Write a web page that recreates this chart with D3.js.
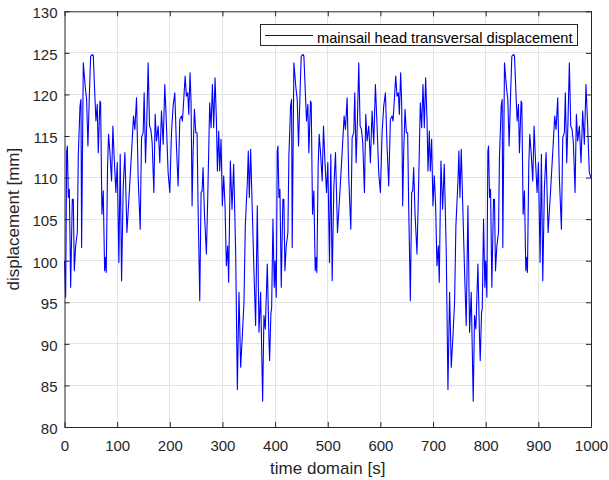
<!DOCTYPE html>
<html>
<head>
<meta charset="utf-8">
<script src="https://cdn.jsdelivr.net/npm/d3@7"></script>
<style>
  html, body { margin: 0; padding: 0; background: #ffffff; }
  svg { display: block; font-family: "Liberation Sans", Arial, sans-serif; }
</style>
</head>
<body>
<svg id="chart" width="609" height="480"></svg>
<script>
// ---- data ----
const time = [
  0,2.2,4.1,5.4,7.3,9.2,11.7,14.8,16.7,18.6,21.2,24.3,26.2,29.4,31.3,32.5,35.7,39.5,42,44.5,47.1,49.6,53.4,54.7,57.2,59.7,62.2,64.1,67.3,68.6,71.1,73.6,76.2,78,79.3,81.8,83.7,86.3,89.4,91.9,94.5,97.6,100.2,103.3,105.8,108.4,111.5,114.7,118.5,122.3,127.3,131.1,133.6,136.8,140,143.8,146.3,149.4,151.3,153.9,156.4,158.9,161.5,164,166.5,169.7,172.2,174.7,177.9,181,184.2,187.4,190.5,193.7,196.8,200,
  203.2,206.3,209.5,212.6,215.8,219,222.1,224,226.5,229.1,231.6,234.1,236,238.5,240.4,242.3,244.2,246.8,249.3,251.8,253.7,256.9,259.4,261.3,263.2,265.7,269.5,272,275.8,278.4,280.9,283.4,285.9,288.5,290.4,292.9,294.8,297.3,299.8,302.4,304.9,307.4,310,311.8,315,318.2,321.3,325.1,328.3,331.4,334.6,337.8,340.9,343.4,347.2,349.1,351,353.6,356.1,359.9,363,366.2,369.4,372.5,376.3,378.8,381.4,385.2,388.3,389.6,392.1,393.4,395.9,398.4,
  400,402.2,404.1,405.4,407.3,409.2,411.7,414.8,416.7,418.6,421.2,424.3,426.2,429.4,431.3,432.5,435.7,439.5,442,444.5,447.1,449.6,453.4,454.7,457.2,459.7,462.2,464.1,467.3,468.6,471.1,473.6,476.2,478,479.3,481.8,483.7,486.3,489.4,491.9,494.5,497.6,500.2,503.3,505.8,508.4,511.5,514.7,518.5,522.3,527.3,531.1,533.6,536.8,540,543.8,546.3,549.4,551.3,553.9,556.4,558.9,561.5,564,566.5,569.7,572.2,574.7,577.9,581,584.2,587.4,590.5,593.7,596.8,600,
  603.2,606.3,609.5,612.6,615.8,619,622.1,624,626.5,629.1,631.6,634.1,636,638.5,640.4,642.3,644.2,646.8,649.3,651.8,653.7,656.9,659.4,661.3,663.2,665.7,669.5,672,675.8,678.4,680.9,683.4,685.9,688.5,690.4,692.9,694.8,697.3,699.8,702.4,704.9,707.4,710,711.8,715,718.2,721.3,725.1,728.3,731.4,734.6,737.8,740.9,743.4,747.2,749.1,751,753.6,756.1,759.9,763,766.2,769.4,772.5,776.3,778.8,781.4,785.2,788.3,789.6,792.1,793.4,795.9,798.4,
  800,802.2,804.1,805.4,807.3,809.2,811.7,814.8,816.7,818.6,821.2,824.3,826.2,829.4,831.3,832.5,835.7,839.5,842,844.5,847.1,849.6,853.4,854.7,857.2,859.7,862.2,864.1,867.3,868.6,871.1,873.6,876.2,878,879.3,881.8,883.7,886.3,889.4,891.9,894.5,897.6,900.2,903.3,905.8,908.4,911.5,914.7,918.5,922.3,927.3,931.1,933.6,936.8,940,943.8,946.3,949.4,951.3,953.9,956.4,958.9,961.5,964,966.5,969.7,972.2,974.7,977.9,981,984.2,987.4,990.5,993.7,996.8,1000
];
const displacement = [
  100,95.6,113.2,113.8,107.6,108.6,96.8,107.4,107.4,98.8,101.8,103.4,112.6,118.6,119.4,101.6,123.8,120.8,119.4,113.8,119.6,124.6,124.8,124.6,120.6,116.8,118.8,113,119.2,119,105.6,108.4,98.8,100.4,98.6,111.4,115.2,113,109.6,116.2,112.2,108.2,111.8,99.8,112.8,97.6,108.8,113,103.4,107.4,113,117.4,115.8,119.6,109.8,103.8,114.8,115.4,120.2,111.8,117,123.8,116.2,115.8,114.2,108.2,117.6,114.4,116.2,111.8,118,114,121.2,116.2,110.6,108.2,
  115.4,118.6,120.2,113.8,109,117,117.4,116.8,119.4,122.2,119.8,120.2,117.6,122.6,119,106.6,113,118.2,115.4,115.4,106.6,95.2,108.2,108.4,111.2,105.8,100.8,107.4,119,116,121.2,116,122,117,110.8,115.6,110.8,114.6,106.6,110.2,106.6,99.4,101.8,97.4,112,106.2,111.6,101,84.5,96.2,87.2,91,95,104.2,109.4,113.2,107.6,113.4,107.4,98.6,92.2,106.6,91.4,96.2,83.1,93.4,91.8,99.6,90.6,88,93.8,94.2,105,96.8,
  100,95.6,113.2,113.8,107.6,108.6,96.8,107.4,107.4,98.8,101.8,103.4,112.6,118.6,119.4,101.6,123.8,120.8,119.4,113.8,119.6,124.6,124.8,124.6,120.6,116.8,118.8,113,119.2,119,105.6,108.4,98.8,100.4,98.6,111.4,115.2,113,109.6,116.2,112.2,108.2,111.8,99.8,112.8,97.6,108.8,113,103.4,107.4,113,117.4,115.8,119.6,109.8,103.8,114.8,115.4,120.2,111.8,117,123.8,116.2,115.8,114.2,108.2,117.6,114.4,116.2,111.8,118,114,121.2,116.2,110.6,108.2,
  115.4,118.6,120.2,113.8,109,117,117.4,116.8,119.4,122.2,119.8,120.2,117.6,122.6,119,106.6,113,118.2,115.4,115.4,106.6,95.2,108.2,108.4,111.2,105.8,100.8,107.4,119,116,121.2,116,122,117,110.8,115.6,110.8,114.6,106.6,110.2,106.6,99.4,101.8,97.4,112,106.2,111.6,101,84.5,96.2,87.2,91,95,104.2,109.4,113.2,107.6,113.4,107.4,98.6,92.2,106.6,91.4,96.2,83.1,93.4,91.8,99.6,90.6,88,93.8,94.2,105,96.8,
  100,95.6,113.2,113.8,107.6,108.6,96.8,107.4,107.4,98.8,101.8,103.4,112.6,118.6,119.4,101.6,123.8,120.8,119.4,113.8,119.6,124.6,124.8,124.6,120.6,116.8,118.8,113,119.2,119,105.6,108.4,98.8,100.4,98.6,111.4,115.2,113,109.6,116.2,112.2,108.2,111.8,99.8,112.8,97.6,108.8,113,103.4,107.4,113,117.4,115.8,119.6,109.8,103.8,114.8,115.4,120.2,111.8,117,123.8,116.2,115.8,114.2,108.2,117.6,114.4,116.2,111.8,118,114,121.2,116.2,110.6,110
];
const xTicks = [0,100,200,300,400,500,600,700,800,900,1000];
const yTicks = [80,85,90,95,100,105,110,115,120,125,130];
const seriesName = "mainsail head transversal displacement";
const xLabel = "time domain [s]";
const yLabel = "displacement [mm]";

// ---- layout ----
const svg = d3.select("#chart");
const L = 64.5, R = 591, T = 11.3, B = 427;
const x = d3.scaleLinear().domain([0, 1000]).range([L, R]);
const y = d3.scaleLinear().domain([80, 130]).range([B, T]);
const axisColor = "#262626";

// grid
const grid = svg.append("g");
grid.selectAll("line.gx").data(xTicks.slice(1, -1)).join("line")
  .attr("x1", d => x(d)).attr("x2", d => x(d)).attr("y1", T).attr("y2", B)
  .attr("stroke", "#e3e3e3").attr("stroke-width", 1).attr("shape-rendering", "crispEdges");
grid.selectAll("line.gy").data(yTicks.slice(1, -1)).join("line")
  .attr("y1", d => y(d)).attr("y2", d => y(d)).attr("x1", L).attr("x2", R)
  .attr("stroke", "#e3e3e3").attr("stroke-width", 1).attr("shape-rendering", "crispEdges");

// data line
const line = d3.line().x((d, i) => x(time[i])).y(d => y(d));
svg.append("path").datum(displacement)
  .attr("d", line).attr("fill", "none")
  .attr("stroke", "#0000ff").attr("stroke-width", 1.1)
  .attr("stroke-linejoin", "round");

// axes
function style(g) {
  g.select(".domain").attr("stroke", axisColor);
  g.selectAll(".tick line").attr("stroke", axisColor);
  g.selectAll(".tick text").attr("fill", axisColor)
    .attr("font-size", "15px").attr("font-family", "Liberation Sans, Arial, sans-serif");
}
svg.append("g").attr("transform", `translate(0,${B})`)
  .call(d3.axisBottom(x).tickValues(xTicks).tickSizeInner(-5).tickSizeOuter(0).tickPadding(13).tickFormat(d3.format("d")))
  .call(style)
  .call(g => g.selectAll(".tick text").attr("dy", "0.71em"));
svg.append("g").attr("transform", `translate(0,${T})`)
  .call(d3.axisTop(x).tickValues(xTicks).tickSizeInner(-5).tickSizeOuter(0).tickFormat(""))
  .call(style);
svg.append("g").attr("transform", `translate(${L},0)`)
  .call(d3.axisLeft(y).tickValues(yTicks).tickSizeInner(-5).tickSizeOuter(0).tickPadding(7).tickFormat(d3.format("d")))
  .call(style)
  .call(g => g.selectAll(".tick text").attr("dy", "6.3px"));
svg.append("g").attr("transform", `translate(${R},0)`)
  .call(d3.axisRight(y).tickValues(yTicks).tickSizeInner(-5).tickSizeOuter(0).tickFormat(""))
  .call(style);

// axis labels
svg.append("text").attr("x", (L + R) / 2).attr("y", 474)
  .attr("text-anchor", "middle").attr("font-size", "17px").attr("fill", axisColor)
  .text(xLabel);
svg.append("text").attr("transform", `translate(19,${(T + B) / 2}) rotate(-90)`)
  .attr("text-anchor", "middle").attr("font-size", "17px").attr("fill", axisColor)
  .text(yLabel);

// legend
const lg = svg.append("g");
lg.append("rect").attr("x", 260.5).attr("y", 24.5).attr("width", 317).attr("height", 21)
  .attr("fill", "#ffffff").attr("stroke", axisColor).attr("stroke-width", 1);
lg.append("line").attr("x1", 265).attr("x2", 313).attr("y1", 35.5).attr("y2", 35.5)
  .attr("stroke", "#0000ff").attr("stroke-width", 1.1);
lg.append("text").attr("x", 317).attr("y", 42.5).attr("font-size", "14.6px").attr("fill", "#000000")
  .text(seriesName);
</script>
</body>
</html>
